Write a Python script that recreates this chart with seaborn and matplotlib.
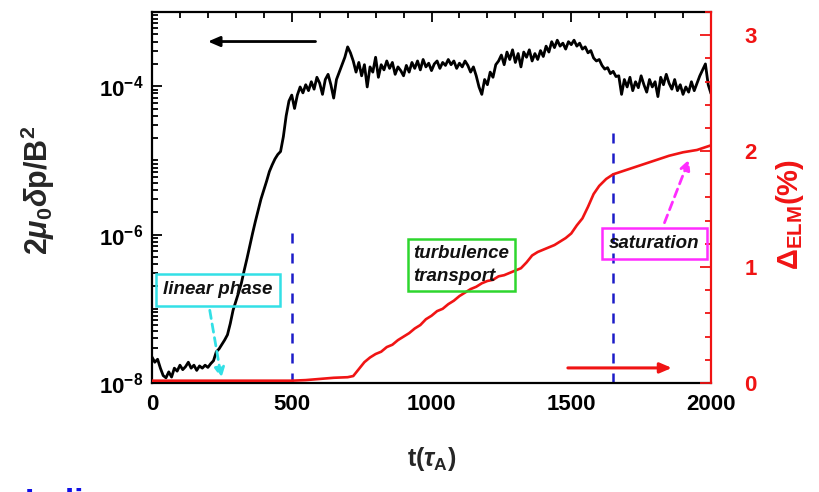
import numpy as np
import pandas as pd
import matplotlib
matplotlib.use("Agg")
import matplotlib.pyplot as plt
import matplotlib.ticker as mticker
import seaborn as sns

# ---------------- data ----------------
# log10 of 2*mu0*dp/B^2, sampled evenly from t=0 to t=2000 (step 10)
log_dp = [
    # t = 0 .. 220
    -7.65, -7.72, -7.68, -7.80, -7.90, -7.93, -7.85, -7.92, -7.80, -7.84,
    -7.76, -7.82, -7.78, -7.72, -7.80, -7.76, -7.83, -7.77, -7.80, -7.76,
    -7.79, -7.74, -7.70,
    # t = 230 .. 490 (linear growth)
    -7.58, -7.54, -7.48, -7.42, -7.35, -7.20, -7.02, -6.90, -6.78, -6.65,
    -6.48, -6.32, -6.15, -5.98, -5.82, -5.67, -5.52, -5.40, -5.28, -5.15,
    -5.06, -4.98, -4.92, -4.88, -4.68, -4.40, -4.20,
    # t = 500 .. 2000 (turbulent plateau)
    -4.12, -4.30, -4.12, -4.01, -4.09, -3.98, -4.06, -3.94, -4.04, -3.88,
    -3.96, -4.11, -3.91, -3.84, -3.98, -4.16, -3.91, -3.81, -3.71, -3.61,
    -3.47, -3.55, -3.66, -3.81, -3.68, -3.86, -3.71, -4.01, -3.74, -3.81,
    -3.61, -3.88, -3.71, -3.78, -3.66, -3.76, -3.68, -3.84, -3.74, -3.79,
    -3.86, -3.72, -3.81, -3.68, -3.76, -3.66, -3.78, -3.64, -3.74, -3.69,
    -3.79, -3.70, -3.66, -3.76, -3.68, -3.72, -3.64, -3.71, -3.66, -3.76,
    -3.69, -3.74, -3.66, -3.72, -3.81, -3.74, -3.86, -4.01, -4.11, -3.91,
    -3.98, -3.81, -3.88, -3.71, -3.66, -3.58, -3.71, -3.54, -3.64, -3.51,
    -3.68, -3.56, -3.74, -3.54, -3.61, -3.51, -3.66, -3.56, -3.64, -3.52,
    -3.60, -3.46, -3.54, -3.40, -3.48, -3.38, -3.46, -3.42, -3.50, -3.40,
    -3.44, -3.38, -3.46, -3.42, -3.50, -3.47, -3.55, -3.52, -3.62, -3.66,
    -3.64, -3.72, -3.77, -3.75, -3.83, -3.80, -3.87, -3.86, -4.11, -3.91,
    -4.01, -3.88, -4.06, -3.94, -4.02, -3.86, -3.98, -4.08, -3.91, -4.01,
    -3.94, -4.14, -3.88, -3.98, -3.84, -3.96, -4.04, -3.91, -4.06, -3.98,
    -4.11, -4.01, -4.08, -3.94, -4.06, -3.96, -3.86, -3.78, -3.70, -3.98,
    -4.10,
]

t_elm = [0, 100, 200, 300, 400, 500, 550, 600, 650, 700, 720, 740, 760, 780,
         800, 820, 840, 860, 880, 900, 920, 940, 960, 980, 1000, 1020, 1040,
         1060, 1080, 1100, 1120, 1140, 1160, 1180, 1200, 1220, 1240, 1260,
         1280, 1300, 1320, 1340, 1360, 1380, 1400, 1420, 1440, 1460, 1480,
         1500, 1520, 1540, 1560, 1580, 1600, 1625, 1650, 1675, 1700, 1750,
         1800, 1850, 1900, 1950, 2000]
elm = [0.02, 0.02, 0.02, 0.02, 0.02, 0.02, 0.025, 0.035, 0.045, 0.05, 0.06,
       0.12, 0.18, 0.22, 0.25, 0.27, 0.31, 0.33, 0.37, 0.40, 0.43, 0.47,
       0.50, 0.55, 0.58, 0.62, 0.64, 0.68, 0.71, 0.75, 0.78, 0.81, 0.83,
       0.86, 0.88, 0.89, 0.92, 0.93, 0.95, 0.97, 0.99, 1.04, 1.10, 1.13,
       1.15, 1.17, 1.19, 1.22, 1.25, 1.29, 1.36, 1.42, 1.52, 1.63, 1.70,
       1.76, 1.80, 1.82, 1.84, 1.88, 1.92, 1.96, 1.99, 2.01, 2.05]

x_ticks = [0, 500, 1000, 1500, 2000]
left_ticks = [1e-8, 1e-6, 1e-4]
left_labels = [r"$\mathbf{10^{-8}}$", r"$\mathbf{10^{-6}}$", r"$\mathbf{10^{-4}}$"]
right_ticks = [0, 1, 2, 3]
phase_lines = [500, 1650]
phase_tops = [1.2e-6, 3.0e-5]

# ---------------- style ----------------
sns.set_style("white")
plt.rcParams["font.family"] = ["Liberation Sans", "DejaVu Sans"]
plt.rcParams["font.weight"] = "bold"
plt.rcParams["mathtext.fontset"] = "custom"
plt.rcParams["mathtext.rm"] = "Liberation Sans:bold"
plt.rcParams["mathtext.bf"] = "Liberation Sans:bold"
plt.rcParams["mathtext.it"] = "Liberation Sans:italic"

RED = "#f01414"
BLUE = "#1c1cc8"
CYAN = "#33e0e6"
GREEN = "#2ed62e"
MAGENTA = "#ff2cff"

fig = plt.figure(figsize=(8.19, 4.92), dpi=100)
L, R, T, B = 152, 711, 12, 383
ax = fig.add_axes([L / 819, 1 - B / 492, (R - L) / 819, (B - T) / 492])

t_dp = np.linspace(0, 2000, len(log_dp))
df_dp = pd.DataFrame({"t": t_dp, "dp": 10 ** np.array(log_dp)})
df_elm = pd.DataFrame({"t": t_elm, "elm": elm})

sns.lineplot(data=df_dp, x="t", y="dp", ax=ax, color="black", lw=2.0)
ax.set_yscale("log")
ax.set_ylim(1e-8, 1e-3)
ax.set_xlim(0, 2000)

ax2 = ax.twinx()
sns.lineplot(data=df_elm, x="t", y="elm", ax=ax2, color=RED, lw=1.9)
ax2.set_ylim(0, 3.2)

# blue dashed phase markers
for x0, top in zip(phase_lines, phase_tops):
    ax.vlines(x0, 1e-8, top, colors=BLUE, linestyles=(0, (4, 4)), lw=1.8)

# ticks
ax.set_xticks(x_ticks)
ax.set_xticklabels([str(v) for v in x_ticks])
ax.xaxis.set_minor_locator(mticker.MultipleLocator(100))
ax.yaxis.set_major_locator(mticker.FixedLocator(left_ticks))
ax.yaxis.set_major_formatter(mticker.FixedFormatter(left_labels))
minor_pos = [k * 10.0 ** e for e in range(-8, -3) for k in range(1, 10)
             if k * 10.0 ** e not in left_ticks]
ax.yaxis.set_minor_locator(mticker.FixedLocator(minor_pos))
ax.yaxis.set_minor_formatter(mticker.NullFormatter())
ax.tick_params(axis="both", which="both", direction="in", top=True,
               right=False, colors="black", labelsize=16, width=1.3)
ax.tick_params(axis="both", which="major", length=7)
ax.tick_params(axis="both", which="minor", length=4)
ax.tick_params(axis="x", pad=8)
ax.tick_params(axis="y", pad=6)

ax2.set_yticks(right_ticks)
ax2.set_yticklabels([str(v) for v in right_ticks])
ax2.yaxis.set_minor_locator(mticker.MultipleLocator(0.2))
ax2.tick_params(axis="y", which="both", direction="in", colors=RED,
                labelsize=16, width=1.3, pad=24)
ax2.tick_params(axis="y", which="major", length=8)
ax2.tick_params(axis="y", which="minor", length=4)

for sp in ["left", "top", "bottom"]:
    ax.spines[sp].set_color("black")
    ax.spines[sp].set_linewidth(1.6)
    ax2.spines[sp].set_visible(False)
ax.spines["right"].set_visible(False)
ax2.spines["right"].set_color(RED)
ax2.spines["right"].set_linewidth(1.6)

for lab in ax.get_xticklabels() + ax.get_yticklabels() + ax2.get_yticklabels():
    lab.set_fontweight("bold")

ax.set_xlabel(r"t($\tau_{\mathbf{A}}$)", fontsize=18, fontweight="bold")
ax.xaxis.set_label_coords(0.5, -0.168)
ax.set_ylabel(r"2$\mu_0\delta$p/B$^2$", fontsize=22, fontweight="bold")
ax.yaxis.set_label_coords(-0.17, 0.52)
ax2.set_ylabel(r"$\Delta_{\mathbf{ELM}}$(%)", fontsize=21, fontweight="bold",
               color=RED)
ax2.yaxis.set_label_coords(1.112, 0.455)

# direction arrows
ax.annotate("", xy=(190, 4.0e-4), xytext=(595, 4.0e-4),
            arrowprops=dict(arrowstyle="-|>,head_length=0.7,head_width=0.3",
                            color="black", lw=2))
ax2.annotate("", xy=(1870, 0.13), xytext=(1478, 0.13),
             arrowprops=dict(arrowstyle="-|>,head_length=0.7,head_width=0.3",
                             color=RED, lw=2.2))

# phase annotations
ax.annotate("", xy=(250, 1.07e-8), xytext=(205, 1.04e-7),
            arrowprops=dict(arrowstyle="-|>,head_length=0.6,head_width=0.3",
                            color=CYAN, lw=2, linestyle=(0, (3, 2))))
ax2.annotate("", xy=(1925, 1.95), xytext=(1830, 1.36),
             arrowprops=dict(arrowstyle="-|>,head_length=0.6,head_width=0.3",
                             color=MAGENTA, lw=2, linestyle=(0, (3, 2))))

box_kw = dict(fontsize=13.5, fontstyle="italic", fontweight="bold",
              color="#111111", transform=ax2.transAxes, zorder=10)
ax2.text(0.02, 0.251, "linear phase", ha="left", va="center",
         bbox=dict(boxstyle="square,pad=0.38", fc="none", ec=CYAN, lw=1.8),
         **box_kw)
ax2.text(0.468, 0.318, "turbulence\ntransport", ha="left", va="center",
         linespacing=1.45, multialignment="left",
         bbox=dict(boxstyle="square,pad=0.32", fc="none", ec=GREEN, lw=1.8),
         **box_kw)
ax2.text(0.899, 0.377, "saturation", ha="center", va="center",
         bbox=dict(boxstyle="square,pad=0.38", fc="none", ec=MAGENTA, lw=1.8),
         **box_kw)

# cropped blue caption at the bottom edge
fig.text(25 / 819, 4 / 492, "Indi", color="#1010e6", fontsize=24,
         fontweight="bold", va="top", ha="left")

fig.savefig("out.png", dpi=100)
